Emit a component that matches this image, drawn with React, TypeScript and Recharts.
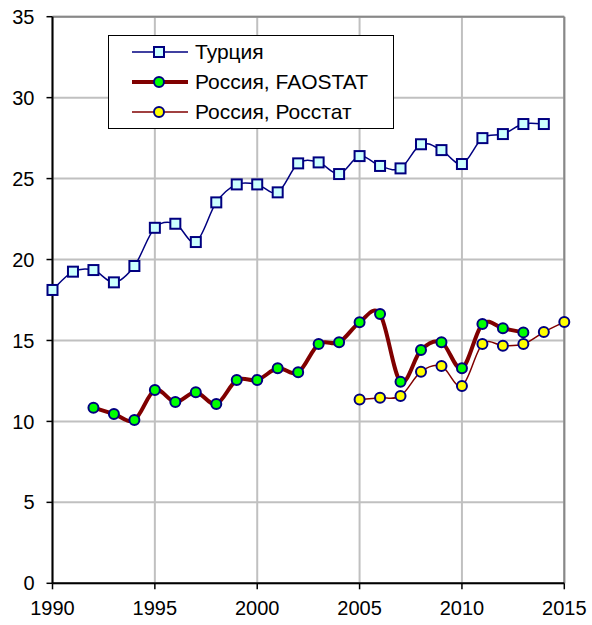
import React from 'react';
import { LineChart, Line, XAxis, YAxis, CartesianGrid, ReferenceLine, Legend } from 'recharts';

const years = [
  1990, 1991, 1992, 1993, 1994, 1995, 1996, 1997, 1998, 1999, 2000, 2001, 2002,
  2003, 2004, 2005, 2006, 2007, 2008, 2009, 2010, 2011, 2012, 2013, 2014, 2015,
];
const turkey = [
  18.12, 19.25, 19.35, 18.59, 19.6, 21.96, 22.21, 21.08, 23.53, 24.64, 24.64, 24.15, 25.94,
  26.0, 25.28, 26.39, 25.78, 25.63, 27.12, 26.76, 25.9, 27.5, 27.75, 28.37, 28.37, null,
];
const russiaFaostat = [
  null, null, 10.85, 10.46, 10.09, 11.94, 11.2, 11.8, 11.07, 12.56, 12.56, 13.28, 13.03,
  14.78, 14.89, 16.12, 16.63, 12.45, 14.41, 14.89, 13.28, 16.02, 15.75, 15.5, null, null,
];
const russiaRosstat = [
  null, null, null, null, null, null, null, null, null, null, null, null, null,
  null, null, 11.36, 11.46, 11.57, 13.07, 13.42, 12.19, 14.78, 14.68, 14.78, 15.52, 16.14,
];
const xTicks = [1990, 1995, 2000, 2005, 2010, 2015];
const yTicks = [0, 5, 10, 15, 20, 25, 30, 35];

const labels = {
  turkey: 'Турция',
  faostat: 'Россия, FAOSTAT',
  rosstat: 'Россия, Росстат',
};

const data = years.map((year, i) => ({
  year,
  turkey: turkey[i],
  faostat: russiaFaostat[i],
  rosstat: russiaRosstat[i],
}));

const FONT = '"Liberation Sans", Arial, sans-serif';

// сглаживание как в Excel (Catmull-Rom -> кривые Безье)
const excelSmooth = (context: any) => {
  let pts: [number, number][] = [];
  return {
    areaStart() {},
    areaEnd() {},
    lineStart() {
      pts = [];
    },
    point(x: number, y: number) {
      pts.push([+x, +y]);
    },
    lineEnd() {
      if (!pts.length) return;
      context.moveTo(pts[0][0], pts[0][1]);
      if (pts.length === 1) {
        context.lineTo(pts[0][0], pts[0][1]);
        return;
      }
      for (let i = 0; i < pts.length - 1; i++) {
        const p0 = pts[i - 1] || pts[i];
        const p1 = pts[i];
        const p2 = pts[i + 1];
        const p3 = pts[i + 2] || p2;
        context.bezierCurveTo(
          p1[0] + (p2[0] - p0[0]) / 6, p1[1] + (p2[1] - p0[1]) / 6,
          p2[0] - (p3[0] - p1[0]) / 6, p2[1] - (p3[1] - p1[1]) / 6,
          p2[0], p2[1],
        );
      }
    },
  };
};

const SquareDot = (props: any) => {
  const { cx, cy, index, value } = props;
  if (value == null || cx == null || cy == null) return <g key={index} />;
  return (
    <rect key={index} x={cx - 5} y={cy - 5} width={10} height={10}
      fill="#ccffff" stroke="#000080" strokeWidth={2} />
  );
};

const legendRows = [
  { name: labels.turkey, stroke: '#000080', width: 1.5, marker: 'square', fill: '#ccffff' },
  { name: labels.faostat, stroke: '#800000', width: 4, marker: 'circle', fill: '#00ff00' },
  { name: labels.rosstat, stroke: '#800000', width: 1.5, marker: 'circle', fill: '#ffff00' },
];

const LegendBox = () => (
  <div style={{
    width: 286, height: 94, boxSizing: 'border-box', border: '1.5px solid #000',
    background: '#fff', paddingTop: 1, fontFamily: FONT,
  }}>
    {legendRows.map((r) => (
      <div key={r.name} style={{ display: 'flex', alignItems: 'center', height: 30 }}>
        <svg width={86} height={20} style={{ flex: 'none' }}>
          <line x1={23} x2={79} y1={10} y2={10} stroke={r.stroke} strokeWidth={r.width} />
          {r.marker === 'square' ? (
            <rect x={45} y={5} width={10} height={10} fill={r.fill} stroke="#000080" strokeWidth={2} />
          ) : (
            <circle cx={50} cy={10} r={5} fill={r.fill} stroke="#000080" strokeWidth={2} />
          )}
        </svg>
        <span style={{ fontSize: 21, color: '#000', whiteSpace: 'nowrap' }}>{r.name}</span>
      </div>
    ))}
  </div>
);

export default function App() {
  return (
    <div style={{ position: 'absolute', left: 0, top: 0 }}>
      <LineChart
        width={592}
        height={625}
        data={data}
        margin={{ top: 16.7, right: 27.7, left: 0, bottom: 0 }}
      >
        <CartesianGrid stroke="#c0c0c0" strokeWidth={2} />
        <XAxis
          dataKey="year"
          type="number"
          domain={[1990, 2015]}
          ticks={xTicks}
          height={41.7}
          tickSize={6}
          tickMargin={11}
          axisLine={{ stroke: '#000', strokeWidth: 2 }}
          tickLine={{ stroke: '#000', strokeWidth: 1.5 }}
          tick={{ fill: '#000', fontSize: 20, fontFamily: FONT }}
        />
        <YAxis
          type="number"
          domain={[0, 35]}
          ticks={yTicks}
          width={52.5}
          tickSize={6}
          tickMargin={12}
          axisLine={{ stroke: '#000', strokeWidth: 2 }}
          tickLine={{ stroke: '#000', strokeWidth: 1.5 }}
          tick={{ fill: '#000', fontSize: 20, fontFamily: FONT }}
        />
        <ReferenceLine y={35} stroke="#888" strokeWidth={2} />
        <ReferenceLine x={2015} stroke="#888" strokeWidth={2} />
        <Legend
          layout="vertical"
          align="center"
          verticalAlign="middle"
          wrapperStyle={{ left: 108, top: 35, width: 286, height: 94 }}
          content={() => <LegendBox />}
        />
        <Line
          type={excelSmooth as any}
          dataKey="turkey"
          name={labels.turkey}
          stroke="#000080"
          strokeWidth={1.5}
          dot={SquareDot}
          isAnimationActive={false}
        />
        <Line
          type={excelSmooth as any}
          dataKey="faostat"
          name={labels.faostat}
          stroke="#800000"
          strokeWidth={4}
          dot={{ r: 5, fill: '#00ff00', stroke: '#000080', strokeWidth: 2 }}
          isAnimationActive={false}
        />
        <Line
          type={excelSmooth as any}
          dataKey="rosstat"
          name={labels.rosstat}
          stroke="#800000"
          strokeWidth={1.5}
          dot={{ r: 5, fill: '#ffff00', stroke: '#000080', strokeWidth: 2 }}
          isAnimationActive={false}
        />
      </LineChart>
    </div>
  );
}
